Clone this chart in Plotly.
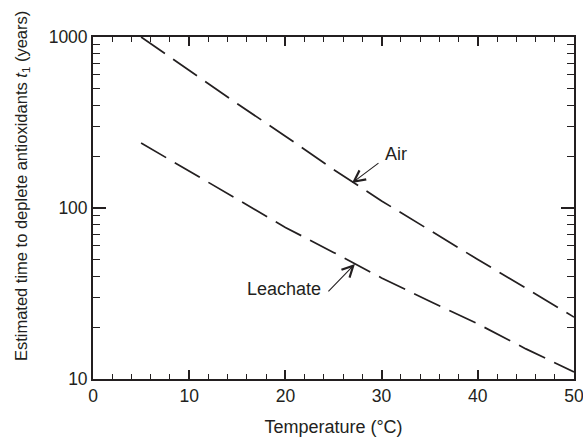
import math
import plotly.graph_objects as go

temps = [5, 10, 15, 20, 25, 30, 35, 40, 45, 50]
air = [1000, 638, 407, 263, 168, 110, 74, 50, 34, 23]
leachate = [240, 164, 112, 77, 55, 39, 28.5, 21, 15, 11]

xticks = [0, 10, 20, 30, 40, 50]
yticks = [10, 100, 1000]

ink = "#231f20"
fig = go.Figure()
fig.add_trace(go.Scatter(x=temps, y=air, mode="lines", name="Air",
                         line=dict(color=ink, width=1.7, dash="29px,10px")))
fig.add_trace(go.Scatter(x=temps, y=leachate, mode="lines", name="Leachate",
                         line=dict(color=ink, width=1.7, dash="29px,10px")))

# labels
fig.add_annotation(x=30.15, y=2.316, xref="x", yref="y", text="Air", showarrow=False,
                   xanchor="left", yanchor="middle", font=dict(size=18, color=ink))
fig.add_annotation(x=23.9, y=1.529, xref="x", yref="y", text="Leachate", showarrow=False,
                   xanchor="right", yanchor="middle", font=dict(size=18, color=ink))
# arrows
fig.add_annotation(x=26.92, y=2.146, xref="x", yref="y", ax=29.83, ay=2.269,
                   axref="x", ayref="y", text="", showarrow=True,
                   arrowhead=5, arrowsize=2.0, arrowwidth=1.1, arrowcolor=ink, standoff=0)
fig.add_annotation(x=27.23, y=1.673, xref="x", yref="y", ax=24.32, ay=1.503,
                   axref="x", ayref="y", text="", showarrow=True,
                   arrowhead=5, arrowsize=2.0, arrowwidth=1.1, arrowcolor=ink, standoff=0)
# y-axis title (placed as annotation to match the reference's offset)
fig.add_annotation(x=0, y=0.564, xref="paper", yref="paper", xshift=-71,
                   text="Estimated time to deplete antioxidants <i>t</i><sub>1</sub> (years)",
                   textangle=-90, showarrow=False, xanchor="center", yanchor="middle",
                   font=dict(size=16.5, color=ink))

axis_common = dict(showline=True, linecolor=ink, linewidth=1.8, mirror="ticks",
                   ticks="inside", tickwidth=1.6, tickcolor=ink,
                   showgrid=False, zeroline=False, automargin=False,
                   ticklabeloverflow="allow",
                   tickfont=dict(size=17.5, color=ink))
fig.update_xaxes(range=[0, 50], tickvals=xticks, ticklen=9,
                 title=dict(text="Temperature (°C)", font=dict(size=18, color=ink), standoff=16),
                 minor=dict(ticks="inside", ticklen=5, tickwidth=1.4, tickcolor=ink, dtick=2),
                 **axis_common)
fig.update_yaxes(type="log", range=[1, 3], tickvals=yticks, ticklen=13,
                 minor=dict(ticks="inside", ticklen=7, tickwidth=1.4, tickcolor=ink,
                            tickvals=[v * m for v in [10, 100] for m in range(2, 10)]),
                 **axis_common)
fig.update_layout(width=583, height=437, margin=dict(l=93, r=9, t=37, b=58),
                  paper_bgcolor="white", plot_bgcolor="white", showlegend=False,
                  font=dict(family="Liberation Sans, Arial, sans-serif", color=ink))
fig.write_html("out.html")
